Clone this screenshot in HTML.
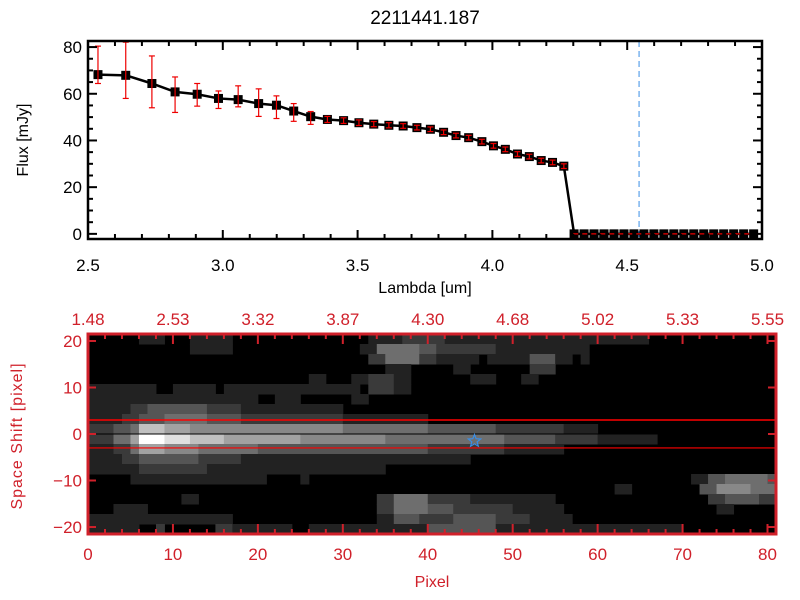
<!DOCTYPE html>
<html><head><meta charset="utf-8"><style>
html,body{margin:0;padding:0;background:#fff;}
svg{display:block;font-family:"Liberation Sans",sans-serif;}
</style></head><body>
<svg id="chart" width="800" height="600" viewBox="0 0 800 600">
<rect width="800" height="600" fill="#fff"/>
<g id="topPlot"></g>
<g id="botPlot"></g>
</svg>
<script>
const lambdaVals=[2.537,2.640,2.737,2.823,2.905,2.984,3.057,3.133,3.199,3.263,3.326,3.388,3.448,3.505,3.560,3.616,3.669,3.720,3.770,3.819,3.865,3.912,3.961,4.004,4.048,4.093,4.137,4.181,4.223,4.265,
4.303,4.340,4.377,4.414,4.451,4.488,4.525,4.562,4.599,4.636,4.673,4.710,4.747,4.784,4.821,4.858,4.895,4.932,4.969];
const fluxVals=[68.2,67.9,64.4,60.8,59.8,58.0,57.5,55.8,55.1,52.6,50.2,49.0,48.5,47.6,47.0,46.5,46.2,45.5,44.8,43.5,42.1,41.2,39.5,37.7,36.2,34.2,33.1,31.4,30.6,29.0,
0,0,0,0,0,0,0,0,0,0,0,0,0,0,0,0,0,0,0];
const errUp=[12.2,14.2,11.8,6.4,4.6,3.2,5.9,6.3,4.0,3.2,2.2,1.3,1.2,1.2,1.1,1.1,1.0,1.0,1.0,1.0,1.0,1.0,1.0,1.0,1.0,1.0,1.0,1.0,1.0,1.0,
0,0,0,0,0,0,0,0,0,0,0,0,0,0,0,0,0,0,0];
const errDn=[3.8,9.9,10.4,8.8,5.1,4.3,3.1,5.5,5.7,4.4,3.3,1.3,1.2,1.2,1.1,1.1,1.0,1.0,1.0,1.0,1.0,1.0,1.0,1.0,1.0,1.0,1.0,1.0,1.0,1.0,
0,0,0,0,0,0,0,0,0,0,0,0,0,0,0,0,0,0,0];
const xTickVals=[2.5,3.0,3.5,4.0,4.5,5.0];
const xTickLabels=["2.5","3.0","3.5","4.0","4.5","5.0"];
const yTickVals=[0,20,40,60,80];
const yTickLabels=["0","20","40","60","80"];
const cutLambda=4.544;
const pixTickVals=[0,10,20,30,40,50,60,70,80];
const pixTickLabels=["0","10","20","30","40","50","60","70","80"];
const wlTickLabels=["1.48","2.53","3.32","3.87","4.30","4.68","5.02","5.33","5.55"];
const shiftTickVals=[20,10,0,-10,-20];
const shiftTickLabels=["20","10","0","\u221210","\u221220"];
const grayLevels=["#000","#222","#3a3a3a","#555","#6e6e6e","#888","#a2a2a2","#c0c0c0","#e0e0e0","#fff"];
const imgRows=[
[[6,9,1],[12,17,1],[33,37,1],[37,42,2],[42,66,1]],
[[12,17,1],[32,34,1],[34,39,4],[39,41,3],[41,48,2],[48,59,1]],
[[33,35,2],[35,39,4],[39,41,2],[41,46,1],[47,52,1],[52,55,3],[55,57,1],[58,59,1]],
[[35,38,1],[43,45,1],[52,55,2]],
[[26,28,1],[31,33,1],[33,36,2],[36,38,1],[45,48,1],[51,53,1]],
[[0,8,1],[10,15,1],[16,32,1],[33,36,2],[36,38,1]],
[[0,20,1],[22,25,1],[31,33,1]],
[[0,5,1],[5,7,2],[7,14,3],[14,18,2],[18,30,1]],
[[0,4,1],[4,6,2],[6,9,3],[9,14,4],[14,18,3],[18,30,2],[30,40,1]],
[[0,3,2],[3,5,3],[5,6,4],[6,9,7],[9,12,6],[12,30,5],[30,40,4],[40,48,3],[48,56,2],[56,60,1]],
[[0,3,2],[3,5,4],[5,6,6],[6,9,9],[9,12,8],[12,16,7],[16,25,6],[25,35,5],[35,49,4],[49,55,3],[55,60,2],[60,67,1]],
[[0,3,1],[3,5,2],[5,6,4],[6,9,6],[9,13,5],[13,20,4],[20,40,3],[40,49,2],[49,56,1]],
[[0,4,1],[4,6,2],[6,13,3],[13,18,2],[18,45,1]],
[[0,6,1],[6,14,2],[14,35,1]],
[[5,21,1],[25,26,1],[71,73,1],[73,75,3],[75,80,4],[80,81,3]],
[[62,64,1],[72,74,3],[74,78,5],[78,81,4]],
[[11,13,1],[34,36,2],[36,40,4],[40,45,2],[45,55,1],[73,75,2],[75,79,3],[79,81,2]],
[[3,7,1],[34,36,2],[36,40,4],[40,43,3],[43,50,2],[50,56,1],[74,76,1]],
[[0,17,1],[34,36,1],[36,39,3],[39,43,2],[43,48,3],[48,52,2],[52,57,1]],
[[0,6,1],[8,9,2],[15,17,2],[17,24,1],[26,40,1],[40,48,3],[48,70,1]]
];
const apertureHalf=3;
const starPix=45.5, starShift=-1.5;

const NS="http://www.w3.org/2000/svg";
function mk(parent,tag,attrs,text){const e=document.createElementNS(NS,tag);for(const k in attrs)e.setAttribute(k,attrs[k]);if(text!==undefined)e.textContent=text;parent.appendChild(e);return e;}

const T={l:88,r:762,t:41,b:239,x0:2.5,x1:5.0,y0:-2.2,y1:82.6};
const sx=v=>T.l+(v-T.x0)/(T.x1-T.x0)*(T.r-T.l);
const sy=v=>T.b-(v-T.y0)/(T.y1-T.y0)*(T.b-T.t);
const topG=document.getElementById('topPlot');
let tx=mk(topG,'text',{x:425,y:24,'font-size':19,'text-anchor':'middle',fill:'#000'},'2211441.187');


let cl=mk(topG,'line',{x1:sx(cutLambda),x2:sx(cutLambda),y1:T.t,y2:T.b,stroke:'#3a8ee6','stroke-width':1,'stroke-dasharray':'6,4'});


let pts=lambdaVals.map((v,i)=>sx(v)+','+sy(fluxVals[i])).join(' ');
let pl=mk(topG,'polyline',{points:pts,fill:'none',stroke:'#000','stroke-width':2.5});


lambdaVals.forEach((v,i)=>{
  const x=sx(v),y=sy(fluxVals[i]);
  const r=mk(topG,'rect',{x:x-4.5,y:y-4.5,width:9,height:9,fill:'#000'});
  
  
});
let zl=mk(topG,'line',{x1:sx(4.3),x2:T.r,y1:sy(0),y2:sy(0),stroke:'#e00','stroke-width':1.2,'stroke-dasharray':'5,4'});


lambdaVals.forEach((v,i)=>{
  if(errUp[i]===0&&errDn[i]===0)return;
  const x=sx(v),y1=sy(fluxVals[i]+errUp[i]),y2=sy(fluxVals[i]-errDn[i]);
  const g=mk(topG,'g',{stroke:'#e00','stroke-width':1.2});
  
  
  mk(g,'line',{x1:x,x2:x,y1:y1,y2:y2});
  mk(g,'line',{x1:x-3,x2:x+3,y1:y1,y2:y1});
  mk(g,'line',{x1:x-3,x2:x+3,y1:y2,y2:y2});
});
mk(topG,'rect',{x:T.l,y:T.t,width:T.r-T.l,height:T.b-T.t,fill:'none',stroke:'#000','stroke-width':2.5});
for(let k=0;k<=25;k++){const v=2.5+k*0.1;const x=sx(v);const L=(k%5===0)?9:5;
  mk(topG,'line',{x1:x,x2:x,y1:T.b,y2:T.b-L,stroke:'#000','stroke-width':2});
  mk(topG,'line',{x1:x,x2:x,y1:T.t,y2:T.t+L,stroke:'#000','stroke-width':2});}
for(let v=0;v<=80;v+=5){const y=sy(v);const L=v%20===0?9:5;
  mk(topG,'line',{x1:T.l,x2:T.l+L,y1:y,y2:y,stroke:'#000','stroke-width':2});
  mk(topG,'line',{x1:T.r,x2:T.r-L,y1:y,y2:y,stroke:'#000','stroke-width':2});}
xTickVals.forEach((v,i)=>{const e=mk(topG,'text',{x:sx(v),y:271,'font-size':17,'text-anchor':'middle',fill:'#000'},xTickLabels[i]);
  
  });
yTickVals.forEach((v,i)=>{const e=mk(topG,'text',{x:T.l-6,y:sy(v)+6,'font-size':17,'text-anchor':'end',fill:'#000'},yTickLabels[i]);
  
  });
tx=mk(topG,'text',{x:425,y:293,'font-size':16,'text-anchor':'middle',fill:'#000'},'Lambda [um]');


tx=mk(topG,'text',{x:0,y:0,'font-size':16,'text-anchor':'middle',fill:'#000',transform:'translate(28,140) rotate(-90)'},'Flux [mJy]');



const B={l:88,r:776,t:334,b:534,p0:0,p1:81,s0:21.5,s1:-21.5};
const px=v=>B.l+(v-B.p0)/(B.p1-B.p0)*(B.r-B.l);
const py=v=>B.t+(B.s0-v)/(B.s0-B.s1)*(B.b-B.t);
const botG=document.getElementById('botPlot');
const RED='#d0202a';
mk(botG,'rect',{x:B.l,y:B.t,width:B.r-B.l,height:B.b-B.t,fill:'#000'});
const bandH=(B.b-B.t)/imgRows.length;
imgRows.forEach((row,b)=>{row.forEach(seg=>{
  if(seg[2]===0)return;
  const r=mk(botG,'rect',{x:px(seg[0]),y:B.t+b*bandH,width:px(seg[1])-px(seg[0])+0.5,height:bandH+0.5,fill:grayLevels[seg[2]]});
  
  
});});
let l1=mk(botG,'line',{x1:B.l,x2:B.r,y1:py(apertureHalf),y2:py(apertureHalf),stroke:'#f00','stroke-width':1.5});


let l2=mk(botG,'line',{x1:B.l,x2:B.r,y1:py(-apertureHalf),y2:py(-apertureHalf),stroke:'#f00','stroke-width':1.2});


let l0=mk(botG,'line',{x1:B.l,x2:B.r,y1:py(0),y2:py(0),stroke:'#000','stroke-width':1});


(function(){const cx=px(starPix),cy=py(starShift),R=6.5,r=2.8;let p=[];
 for(let k=0;k<10;k++){const a=-Math.PI/2+k*Math.PI/5;const rr=k%2?r:R;p.push((cx+rr*Math.cos(a)).toFixed(1)+','+(cy+rr*Math.sin(a)).toFixed(1));}
 const s=mk(botG,'polygon',{points:p.join(' '),fill:'none',stroke:'#3a8ee6','stroke-width':1.2});
 
 })();
mk(botG,'rect',{x:B.l,y:B.t,width:B.r-B.l,height:B.b-B.t,fill:'none',stroke:RED,'stroke-width':3});
for(let v=0;v<=80;v+=2){const x=px(v);const L=v%10===0?10:5;
  mk(botG,'line',{x1:x,x2:x,y1:B.b,y2:B.b-L,stroke:RED,'stroke-width':2});
  mk(botG,'line',{x1:x,x2:x,y1:B.t,y2:B.t+L,stroke:RED,'stroke-width':2});}
shiftTickVals.forEach(v=>{const y=py(v);
  mk(botG,'line',{x1:B.l,x2:B.l+8,y1:y,y2:y,stroke:RED,'stroke-width':2});
  mk(botG,'line',{x1:B.r,x2:B.r-8,y1:y,y2:y,stroke:RED,'stroke-width':2});});
pixTickVals.forEach((v,i)=>{
  let e=mk(botG,'text',{x:px(v),y:560,'font-size':17,'text-anchor':'middle',fill:RED},pixTickLabels[i]);
  
  
  e=mk(botG,'text',{x:px(v),y:325,'font-size':17,'text-anchor':'middle',fill:RED},wlTickLabels[i]);
  
  });
shiftTickVals.forEach((v,i)=>{const e=mk(botG,'text',{x:B.l-6,y:py(v)+6,'font-size':17,'text-anchor':'end',fill:RED},shiftTickLabels[i]);
  
  });
tx=mk(botG,'text',{x:432,y:587,'font-size':16,'text-anchor':'middle',fill:RED},'Pixel');


tx=mk(botG,'text',{x:0,y:0,'font-size':16,'text-anchor':'middle',fill:RED,transform:'translate(22,436) rotate(-90)','letter-spacing':'1'},'Space Shift [pixel]');


</script>
</body></html>
